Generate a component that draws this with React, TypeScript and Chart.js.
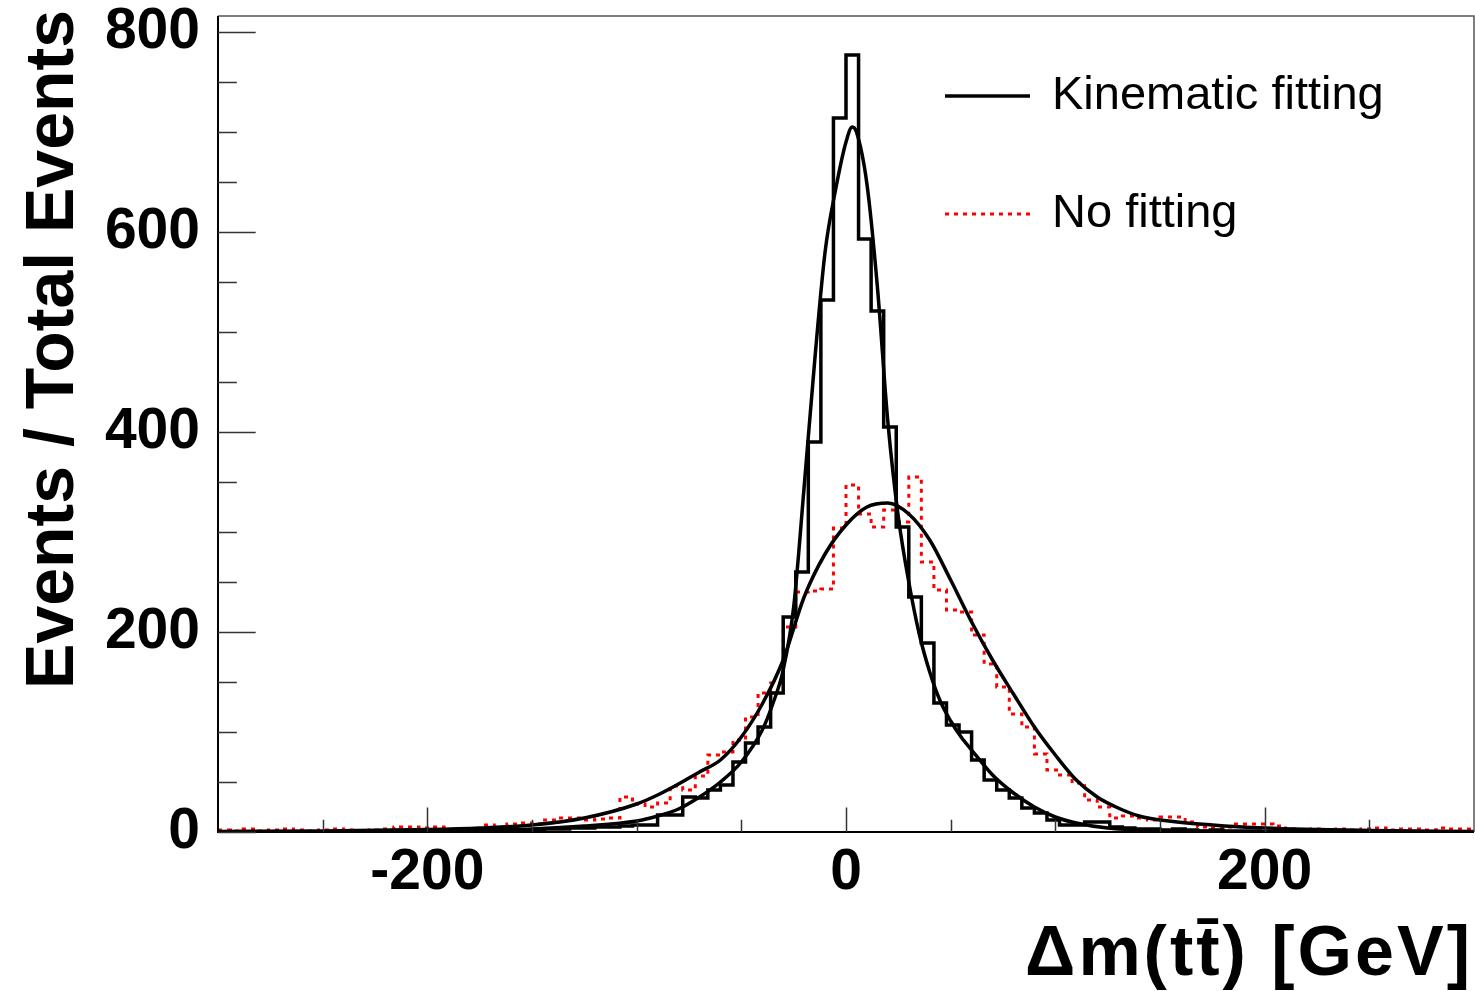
import React, { useEffect, useRef } from "react";
import { Chart, registerables } from "chart.js";

Chart.register(...registerables);

// ---- Data ----
const BIN_LOW = -300;
const BIN_WIDTH = 6;

// Kinematic fitting histogram (100 bins, -300..300 GeV)
const kinematicCounts = [
  0, 0, 0, 0, 0, 0, 0, 0, 0, 0,
  0, 0, 0, 1, 0, 0, 1, 0, 1, 1,
  1, 1, 2, 1, 2, 2, 3, 3, 4, 4,
  5, 5, 6, 7, 7, 17, 17, 35, 34, 42,
  47, 70, 89, 105, 139, 215, 260, 390, 532, 714,
  777, 593, 521, 405, 305, 235, 189, 129, 107, 100,
  72, 52, 42, 34, 24, 19, 12, 7, 7, 10,
  10, 5, 4, 3, 3, 2, 3, 2, 1, 2,
  1, 1, 1, 0, 1, 0, 0, 0, 0, 0,
  0, 0, 0, 0, 0, 0, 0, 0, 0, 0,
];

// No fitting histogram
const noFitCounts = [
  2, 1, 3, 1, 2, 3, 2, 1, 2, 3,
  2, 1, 2, 3, 5, 5, 4, 5, 2, 3,
  1, 7, 4, 8, 9, 8, 12, 14, 14, 12,
  13, 14, 35, 28, 25, 29, 46, 42, 56, 77,
  80, 92, 115, 139, 149, 205, 240, 241, 243, 304,
  347, 318, 305, 322, 310, 355, 270, 242, 222, 220,
  197, 168, 145, 118, 105, 78, 62, 57, 49, 32,
  25, 14, 16, 14, 12, 15, 15, 10, 5, 4,
  5, 8, 8, 8, 6, 3, 2, 3, 2, 3,
  2, 3, 4, 2, 3, 3, 2, 4, 3, 3,
];

// Fit curve for kinematic fitting
const kinFitX = [-300, -250, -200, -175, -150, -125, -100, -90, -80, -70, -60, -50, -40, -35, -30, -25, -20, -15, -10, -5, 0, 3, 5, 10, 15, 20, 25, 30, 35, 40, 45, 50, 55, 60, 70, 80, 90, 100, 110, 125, 150, 175, 200, 250, 300];
const kinFitY = [0, 0.2, 0.8, 1.5, 3, 6, 11, 16, 23, 35, 50, 70, 102, 128, 162, 225, 345, 470, 580, 642, 690, 705, 700, 648, 545, 410, 315, 250, 198, 160, 131, 111, 95, 82, 57, 39, 25, 15, 9, 4, 1.5, 0.6, 0.3, 0.1, 0];

// Fit curve for no fitting
const noFitX = [-300, -250, -200, -175, -150, -125, -100, -90, -80, -70, -60, -50, -40, -30, -20, -10, 0, 10, 20, 30, 40, 50, 60, 70, 80, 90, 100, 110, 120, 130, 140, 150, 175, 200, 250, 300];
const noFitY = [0.5, 1, 2.5, 4, 7, 14, 28, 37, 48, 60, 72, 95, 128, 172, 235, 278, 307, 325, 329, 318, 292, 252, 210, 172, 138, 105, 77, 52, 35, 24, 16, 12, 7, 4, 1.5, 0.5];

const xTickValues = [-200, 0, 200];
const xMinorValues = [-250, -150, -100, -50, 50, 100, 150, 250];
const yTickValues = [0, 200, 400, 600, 800];
const yMinorValues = [50, 100, 150, 250, 300, 350, 450, 500, 550, 650, 700, 750];

const legendLabels = ["Kinematic fitting", "No fitting"];
const xTitle = "\u0394m(tt\u0304) [GeV]";
const yTitle = "Events / Total Events";

const FONT = "'Liberation Sans', Arial, Helvetica, sans-serif";
const RED = "#ff0000";

function histPoints(counts: number[]) {
  const pts = counts.map((c, i) => ({ x: BIN_LOW + i * BIN_WIDTH, y: c }));
  pts.push({ x: BIN_LOW + counts.length * BIN_WIDTH, y: counts[counts.length - 1] });
  return pts;
}

function curvePoints(xs: number[], ys: number[]) {
  return xs.map((x, i) => ({ x, y: ys[i] }));
}

const rootDecor = {
  id: "rootDecor",
  afterDraw(chart: any) {
    const { ctx, chartArea: a, scales } = chart;
    const sx = scales.x;
    const sy = scales.y;
    ctx.save();
    // frame
    ctx.strokeStyle = "#555";
    ctx.lineWidth = 1.5;
    ctx.beginPath();
    ctx.moveTo(a.left, a.top);
    ctx.lineTo(a.right, a.top);
    ctx.lineTo(a.right, a.bottom);
    ctx.stroke();
    ctx.strokeStyle = "#000";
    ctx.lineWidth = 2;
    ctx.beginPath();
    ctx.moveTo(a.left, a.top);
    ctx.lineTo(a.left, a.bottom);
    ctx.lineTo(a.right, a.bottom);
    ctx.stroke();

    // ticks (inside, ROOT style)
    ctx.strokeStyle = "#333";
    ctx.lineWidth = 1.5;
    const yMajor = (a.right - a.left) * 0.03;
    const xMajor = (a.bottom - a.top) * 0.03;
    ctx.beginPath();
    yTickValues.forEach((v) => {
      const p = Math.round(sy.getPixelForValue(v)) + 0.5;
      ctx.moveTo(a.left, p);
      ctx.lineTo(a.left + yMajor, p);
    });
    yMinorValues.forEach((v) => {
      const p = Math.round(sy.getPixelForValue(v)) + 0.5;
      ctx.moveTo(a.left, p);
      ctx.lineTo(a.left + yMajor / 2, p);
    });
    xTickValues.forEach((v) => {
      const p = Math.round(sx.getPixelForValue(v)) + 0.5;
      ctx.moveTo(p, a.bottom);
      ctx.lineTo(p, a.bottom - xMajor);
    });
    xMinorValues.forEach((v) => {
      const p = Math.round(sx.getPixelForValue(v)) + 0.5;
      ctx.moveTo(p, a.bottom);
      ctx.lineTo(p, a.bottom - xMajor / 2);
    });
    ctx.stroke();

    // legend
    ctx.lineWidth = 3.5;
    ctx.strokeStyle = "#000";
    ctx.setLineDash([]);
    ctx.beginPath();
    ctx.moveTo(945, 96);
    ctx.lineTo(1030, 96);
    ctx.stroke();
    ctx.strokeStyle = RED;
    ctx.lineWidth = 3;
    ctx.setLineDash([4, 5]);
    ctx.beginPath();
    ctx.moveTo(945, 214);
    ctx.lineTo(1030, 214);
    ctx.stroke();
    ctx.setLineDash([]);
    ctx.fillStyle = "#000";
    ctx.font = `47px ${FONT}`;
    ctx.textAlign = "left";
    ctx.textBaseline = "middle";
    ctx.fillText(legendLabels[0], 1052, 96);
    ctx.fillText(legendLabels[1], 1052, 214);

    // axis titles
    ctx.font = `bold 70px ${FONT}`;
    ctx.textAlign = "right";
    ctx.textBaseline = "alphabetic";
    if ("letterSpacing" in ctx) (ctx as any).letterSpacing = "3px";
    ctx.fillText(xTitle, 1473, 975);
    if ("letterSpacing" in ctx) (ctx as any).letterSpacing = "0px";

    ctx.font = `bold 68px ${FONT}`;
    ctx.save();
    ctx.translate(73, 10);
    ctx.rotate(-Math.PI / 2);
    ctx.textAlign = "right";
    ctx.textBaseline = "alphabetic";
    ctx.fillText(yTitle, 0, 0);
    ctx.restore();

    ctx.restore();
  },
};

export default function App() {
  const canvasRef = useRef<HTMLCanvasElement | null>(null);

  useEffect(() => {
    const canvas = canvasRef.current;
    if (!canvas) return;
    const chart = new Chart(canvas, {
      type: "line",
      data: {
        datasets: [
          {
            label: "Kinematic fitting fit",
            data: curvePoints(kinFitX, kinFitY),
            borderColor: "#000",
            borderWidth: 3.5,
            pointRadius: 0,
            cubicInterpolationMode: "monotone",
            fill: false,
          },
          {
            label: "No fitting fit",
            data: curvePoints(noFitX, noFitY),
            borderColor: "#000",
            borderWidth: 3.5,
            pointRadius: 0,
            cubicInterpolationMode: "monotone",
            fill: false,
          },
          {
            label: legendLabels[0],
            data: histPoints(kinematicCounts),
            borderColor: "#000",
            borderWidth: 3.5,
            pointRadius: 0,
            stepped: "before",
            fill: false,
          },
          {
            label: legendLabels[1],
            data: histPoints(noFitCounts),
            borderColor: RED,
            borderWidth: 3,
            borderDash: [4, 5],
            pointRadius: 0,
            stepped: "before",
            fill: false,
          },
        ],
      } as any,
      options: {
        animation: false,
        responsive: false,
        devicePixelRatio: 1,
        layout: { padding: { top: 16, right: 1, left: 0, bottom: 0 } },
        plugins: {
          legend: { display: false },
          tooltip: { enabled: false },
        },
        scales: {
          x: {
            type: "linear",
            min: -300,
            max: 300,
            grid: { display: false, drawTicks: false },
            border: { display: false },
            ticks: {
              font: { family: FONT, size: 57, weight: "bold" },
              color: "#000",
              padding: 7,
              maxRotation: 0,
              autoSkip: false,
              callback: (v: any) => String(v),
            },
            afterBuildTicks: (s: any) => {
              s.ticks = xTickValues.map((v) => ({ value: v }));
            },
            afterFit: (s: any) => {
              s.height = 159;
              s.paddingLeft = 0;
              s.paddingRight = 0;
            },
          },
          y: {
            type: "linear",
            min: 0,
            max: 816,
            grid: { display: false, drawTicks: false },
            border: { display: false },
            ticks: {
              font: { family: FONT, size: 57, weight: "bold" },
              color: "#000",
              padding: 18,
              autoSkip: false,
              callback: (v: any) => String(v),
            },
            afterBuildTicks: (s: any) => {
              s.ticks = yTickValues.map((v) => ({ value: v }));
            },
            afterFit: (s: any) => {
              s.width = 218;
              s.paddingTop = 0;
              s.paddingBottom = 0;
            },
          },
        },
      } as any,
      plugins: [rootDecor],
    });
    return () => chart.destroy();
  }, []);

  return (
    <div style={{ position: "fixed", left: 0, top: 0, width: 1475, height: 991, background: "#fff" }}>
      <canvas ref={canvasRef} width={1475} height={991} style={{ width: 1475, height: 991, display: "block" }} />
    </div>
  );
}
